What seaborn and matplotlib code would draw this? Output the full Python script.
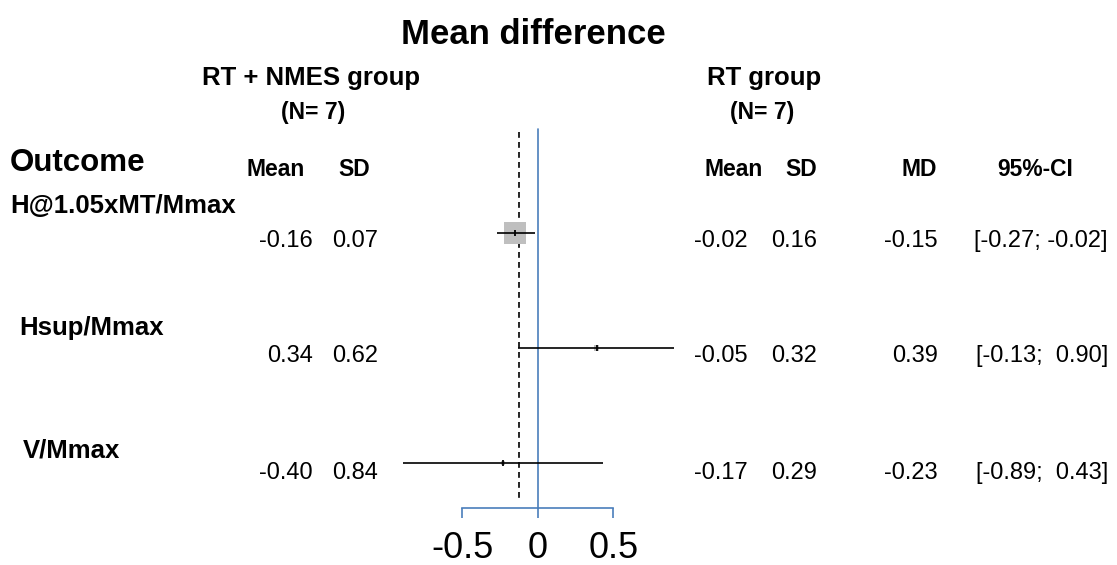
import matplotlib
matplotlib.use("Agg")
import matplotlib.pyplot as plt
import seaborn as sns
import numpy as np

# ---------------- data ----------------
outcomes = ["H@1.05xMT/Mmax", "Hsup/Mmax", "V/Mmax"]
e_mean = ["-0.16", "0.34", "-0.40"]
e_sd = ["0.07", "0.62", "0.84"]
c_mean = ["-0.02", "-0.05", "-0.17"]
c_sd = ["0.16", "0.32", "0.29"]
md = [-0.15, 0.39, -0.23]
ci_low = [-0.27, -0.13, -0.89]
ci_high = [-0.02, 0.90, 0.43]
weights = [91.3, 5.4, 3.3]
pooled_md = -0.124
md_text = ["-0.15", "0.39", "-0.23"]
ci_text = ["[-0.27; -0.02]", "[-0.13;  0.90]", "[-0.89;  0.43]"]
xticks = [-0.5, 0, 0.5]
xtick_labels = ["-0.5", "0", "0.5"]
n_e = 7
n_c = 7

# ---------------- layout ----------------
W, H = 1117, 565
sns.set_theme(style="white")
plt.rcParams["font.family"] = ["Liberation Sans", "DejaVu Sans"]
plt.rcParams["text.color"] = "black"
plt.rcParams["xtick.labelcolor"] = "black"

fig = plt.figure(figsize=(W / 100, H / 100), dpi=100)

x0_px, unit_px = 537.7, 151.0
row0_px, row_step = 233.0, 115.0
ax_left, ax_right = 380, 700
ax = fig.add_axes([ax_left / W, 0, (ax_right - ax_left) / W, 1])
ax.set_xlim((ax_left - x0_px) / unit_px, (ax_right - x0_px) / unit_px)
ax.set_ylim((H - row0_px) / row_step, (0 - row0_px) / row_step)
ax.patch.set_alpha(0)

def ypx(p):
    return (p - row0_px) / row_step

rows = np.arange(len(outcomes))
blue = "#4a7ebb"

# reference line at 0 and pooled estimate
ax.plot([0, 0], [ypx(129), ypx(508)], color=blue, lw=1.2, zorder=1)
ax.plot([pooled_md, pooled_md], [ypx(132), ypx(502)], color="black",
        lw=1.2, ls=(0, (3.5, 2.5)), zorder=1)

# squares (area proportional to weight)
sns.scatterplot(x=md, y=rows, size=weights, sizes=(0, 250),
                size_norm=(0, max(weights)), marker="s", color="#bfbfbf",
                edgecolor="none", legend=False, ax=ax, zorder=2)
# confidence intervals
ax.hlines(rows, ci_low, ci_high, color="black", lw=1.2, zorder=3)
ax.scatter(md, rows, marker="|", s=18, color="black", lw=1.3, zorder=4)

# x axis bracket
for s in ["top", "left", "right"]:
    ax.spines[s].set_visible(False)
ax.spines["bottom"].set_position(("data", ypx(508)))
ax.spines["bottom"].set_bounds(-0.5, 0.5)
ax.spines["bottom"].set_color(blue)
ax.spines["bottom"].set_linewidth(1.2)
ax.set_xticks(xticks)
ax.set_xticklabels(xtick_labels)
ax.tick_params(axis="x", direction="out", length=7.5, width=1.2,
               color=blue, labelsize=26, pad=9, bottom=True,
               labelcolor="black")
ax.set_yticks([])
ax.set_xlabel("")
ax.set_ylabel("")
ax.grid(False)

# ---------------- texts ----------------
def t(x, y, s, size, weight="normal", ha="left"):
    fig.text(x / W, 1 - y / H, s, fontsize=size, fontweight=weight,
             ha=ha, va="baseline", color="black")

t(533, 44, "Mean difference", 25, "bold", "center")
t(311, 85, "RT + NMES group", 18.5, "bold", "center")
t(764, 85, "RT group", 18.5, "bold", "center")
t(313, 119, f"(N= {n_e})", 16.5, "bold", "center")
t(762, 119, f"(N= {n_c})", 16.5, "bold", "center")
t(10, 171, "Outcome", 22.5, "bold")
heads = [("Mean", 305), ("SD", 370), ("Mean", 763), ("SD", 817),
         ("MD", 937), ("95%-CI", 1073)]
for s, x in heads:
    t(x, 176, s, 16.5, "bold", "right")

label_x = [10, 19, 23]
label_y = [213, 335, 457]
val_y = [247, 362, 479]
for i in range(len(outcomes)):
    t(label_x[i], label_y[i], outcomes[i], 18.5, "bold")
    t(313, val_y[i], e_mean[i], 17, ha="right")
    t(378, val_y[i], e_sd[i], 17, ha="right")
    t(748, val_y[i], c_mean[i], 17, ha="right")
    t(817, val_y[i], c_sd[i], 17, ha="right")
    t(938, val_y[i], md_text[i], 17, ha="right")
    t(1108, val_y[i], ci_text[i], 17, ha="right")

fig.savefig("out.png", dpi=100)
